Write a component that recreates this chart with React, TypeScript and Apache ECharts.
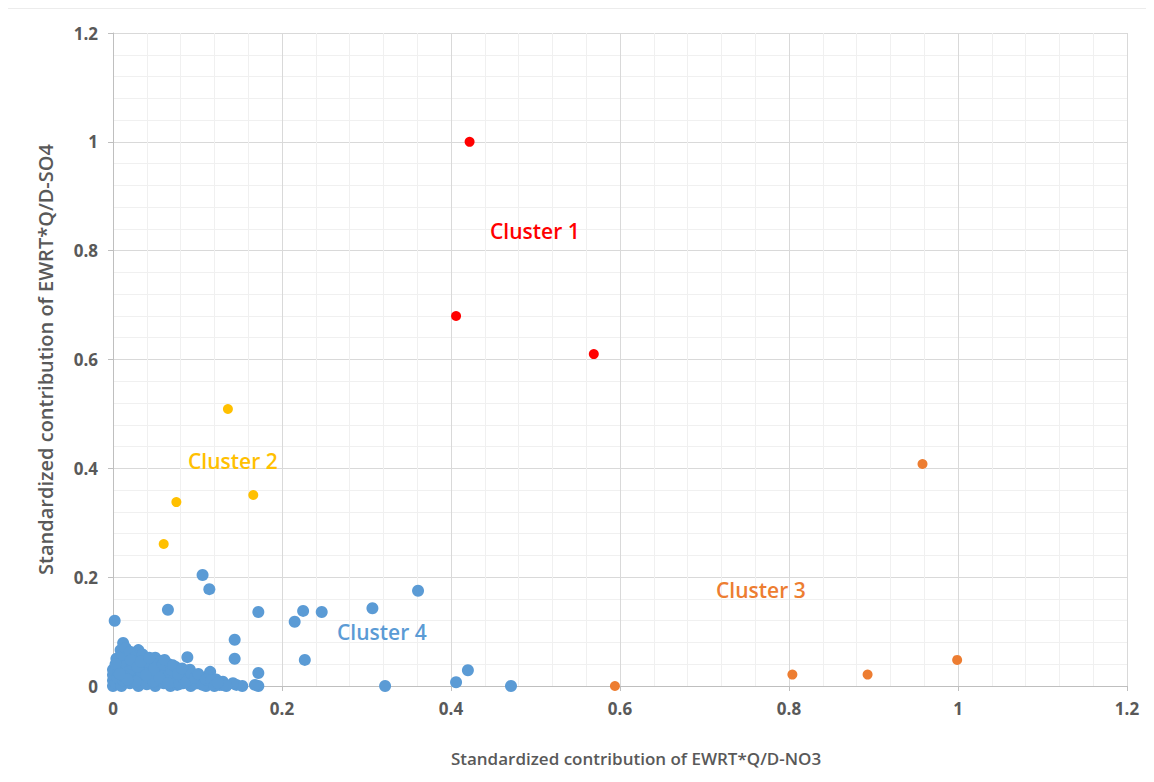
import React, { useEffect, useRef } from "react";
import * as echarts from "echarts";

const cluster1: number[][] = [
  [0.422, 1.0],
  [0.406, 0.68],
  [0.569, 0.61],
];

const cluster2: number[][] = [
  [0.136, 0.509],
  [0.075, 0.338],
  [0.166, 0.351],
  [0.06, 0.261],
];

const cluster3: number[][] = [
  [0.958, 0.408],
  [0.999, 0.048],
  [0.893, 0.021],
  [0.804, 0.021],
  [0.594, 0.0],
];

const cluster4: number[][] = [
  [0.002, 0.12], [0.106, 0.204], [0.114, 0.178], [0.065, 0.14], [0.172, 0.136],
  [0.215, 0.118], [0.225, 0.138], [0.247, 0.136], [0.307, 0.143], [0.361, 0.175],
  [0.227, 0.048], [0.144, 0.085], [0.144, 0.05], [0.088, 0.053], [0.322, 0.0],
  [0.406, 0.007], [0.42, 0.029], [0.471, 0.0], [0.172, 0.024], [0.172, 0.0],
  [0.168, 0.002], [0.146, 0.002], [0.153, 0.0], [0.142, 0.005], [0.129, 0.002],
  [0.115, 0.026], [0.11, 0.0], [0.1, 0.005], [0.091, 0.03],
  [0.0, 0.0], [0.0, 0.01], [0.0, 0.02], [0.0, 0.03], [0.003, 0.005], [0.005, 0.015],
  [0.006, 0.035], [0.008, 0.045], [0.009, 0.066], [0.012, 0.079], [0.01, 0.0],
  [0.012, 0.01], [0.014, 0.025], [0.016, 0.04], [0.018, 0.055], [0.02, 0.005],
  [0.022, 0.018], [0.024, 0.03], [0.026, 0.045], [0.028, 0.058], [0.03, 0.066],
  [0.03, 0.0], [0.032, 0.012], [0.034, 0.025], [0.036, 0.038], [0.038, 0.05],
  [0.04, 0.003], [0.042, 0.015], [0.044, 0.03], [0.046, 0.042], [0.05, 0.052],
  [0.05, 0.0], [0.052, 0.01], [0.054, 0.022], [0.056, 0.035], [0.057, 0.046],
  [0.06, 0.005], [0.062, 0.018], [0.064, 0.03], [0.066, 0.04], [0.068, 0.0],
  [0.07, 0.012], [0.072, 0.025], [0.074, 0.035], [0.076, 0.002], [0.078, 0.015],
  [0.08, 0.026], [0.083, 0.005], [0.086, 0.018], [0.092, 0.0], [0.095, 0.012],
  [0.098, 0.02], [0.104, 0.015], [0.108, 0.006], [0.112, 0.018], [0.118, 0.004],
  [0.122, 0.012], [0.126, 0.002], [0.13, 0.008], [0.134, 0.0],
  [0.004, 0.05], [0.011, 0.058], [0.015, 0.07], [0.02, 0.063], [0.025, 0.052],
  [0.019, 0.028], [0.027, 0.008], [0.035, 0.058], [0.04, 0.045], [0.045, 0.022],
  [0.048, 0.008], [0.053, 0.04], [0.058, 0.028], [0.063, 0.01], [0.067, 0.022],
  [0.073, 0.008], [0.079, 0.004], [0.084, 0.012], [0.088, 0.025], [0.096, 0.004],
  [0.102, 0.01], [0.006, 0.025], [0.013, 0.018], [0.017, 0.012], [0.023, 0.04],
  [0.003, 0.04], [0.008, 0.022], [0.021, 0.048], [0.029, 0.035], [0.033, 0.045],
  [0.039, 0.02], [0.043, 0.052], [0.049, 0.032], [0.055, 0.015], [0.059, 0.04],
  [0.061, 0.048], [0.065, 0.005], [0.069, 0.03], [0.071, 0.038], [0.077, 0.022],
  [0.082, 0.032], [0.087, 0.008], [0.093, 0.022], [0.097, 0.015], [0.101, 0.022],
  [0.106, 0.002], [0.11, 0.012], [0.116, 0.01], [0.12, 0.0], [0.124, 0.006],
];

const xTickLabels = ["0", "0.2", "0.4", "0.6", "0.8", "1", "1.2"];
const yTickLabels = ["0", "0.2", "0.4", "0.6", "0.8", "1", "1.2"];
const xAxisName = "Standardized contribution of EWRT*Q/D-NO3";
const yAxisName = "Standardized contribution of EWRT*Q/D-SO4";
const clusterNames = ["Cluster 1", "Cluster 2", "Cluster 3", "Cluster 4"];

const FONT = "'Open Sans', Lato, sans-serif";

export default function App() {
  const ref = useRef<HTMLDivElement>(null);
  useEffect(() => {
    if (!ref.current) return;
    const chart = echarts.init(ref.current, null, { renderer: "svg" });
    const fmt = (labels: string[]) => (v: number) => {
      const i = Math.round(v / 0.2);
      return labels[i] ?? String(v);
    };
    const axisCommon = {
      min: 0,
      max: 1.2,
      interval: 0.2,
      axisLine: { show: true, lineStyle: { color: "#BFBFBF", width: 1 } },
      axisTick: { show: true, length: 5, lineStyle: { color: "#BFBFBF" } },
      splitLine: { show: true, lineStyle: { color: "#D9D9D9", width: 1 } },
      minorTick: { show: false, splitNumber: 5 },
      minorSplitLine: { show: true, lineStyle: { color: "#F0F0F0", width: 1 } },
    };
    const labelStyle = { color: "#595959", fontSize: 17, fontWeight: "bold", fontFamily: FONT };
    const mkText = (text: string, x: number, y: number, color: string) => ({
      type: "text",
      x,
      y,
      z: 100,
      style: {
        text,
        fill: color,
        fontSize: 21,
        fontWeight: 600,
        fontFamily: FONT,
        align: "left",
        verticalAlign: "middle",
      },
    });
    chart.setOption({
      animation: false,
      backgroundColor: "#FFFFFF",
      grid: { left: 113, right: 27, top: 33, bottom: 96 },
      xAxis: {
        type: "value",
        ...axisCommon,
        name: xAxisName,
        nameLocation: "middle",
        nameGap: 64,
        nameTextStyle: {
          color: "#595959",
          fontSize: 17,
          fontWeight: 600,
          fontFamily: FONT,
          padding: [0, 0, 0, 32],
        },
        axisLabel: { ...labelStyle, margin: 14, formatter: fmt(xTickLabels) },
      },
      yAxis: {
        type: "value",
        ...axisCommon,
        name: yAxisName,
        nameLocation: "middle",
        nameGap: 58,
        nameTextStyle: {
          color: "#595959",
          fontSize: 20,
          fontWeight: 600,
          fontFamily: FONT,
          padding: [0, 0, 0, 0],
        },
        axisLabel: { ...labelStyle, margin: 15, formatter: fmt(yTickLabels) },
      },
      series: [
        {
          name: clusterNames[3],
          type: "scatter",
          data: cluster4,
          symbolSize: 12,
          itemStyle: { color: "#5B9BD5", opacity: 1 },
          z: 2,
        },
        {
          name: clusterNames[0],
          type: "scatter",
          data: cluster1,
          symbolSize: 10,
          itemStyle: { color: "#FF0000", opacity: 1 },
          z: 3,
        },
        {
          name: clusterNames[1],
          type: "scatter",
          data: cluster2,
          symbolSize: 10,
          itemStyle: { color: "#FFC000", opacity: 1 },
          z: 3,
        },
        {
          name: clusterNames[2],
          type: "scatter",
          data: cluster3,
          symbolSize: 10,
          itemStyle: { color: "#ED7D31", opacity: 1 },
          z: 3,
        },
      ],
      graphic: [
        {
          type: "rect",
          shape: { x: 4, y: 8, width: 1145, height: 771 },
          style: { fill: "none", stroke: "#D9D9D9", lineWidth: 1 },
          silent: true,
          z: -1,
        },
        mkText(clusterNames[0], 490, 231, "#FF0000"),
        mkText(clusterNames[1], 188, 461, "#FFC000"),
        mkText(clusterNames[2], 716, 590, "#ED7D31"),
        mkText(clusterNames[3], 337, 632, "#5B9BD5"),
      ],
    });
    return () => chart.dispose();
  }, []);
  return <div ref={ref} style={{ width: 1154, height: 782, margin: -8 }} />;
}
